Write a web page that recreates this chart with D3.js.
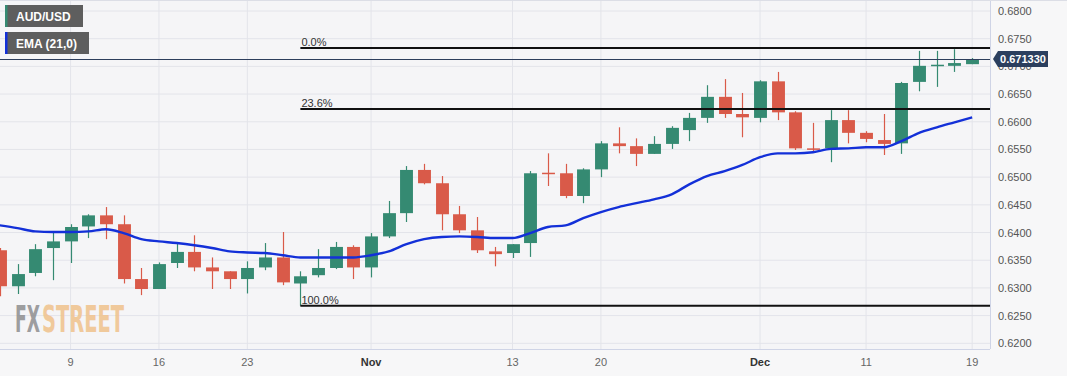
<!DOCTYPE html>
<html>
<head>
<meta charset="utf-8">
<script src="https://cdn.jsdelivr.net/npm/d3@7"></script>
<style>
  body { margin: 0; background: #f7f7f8; }
  svg { display: block; font-family: Arial, "Liberation Sans", sans-serif; }
</style>
</head>
<body>
<div id="chart"></div>
<script>
// daily AUD/USD candles, Oct 3 - Dec 19 2023
const dates = [
  "2023-10-03","2023-10-04","2023-10-05","2023-10-06","2023-10-09","2023-10-10","2023-10-11","2023-10-12","2023-10-13",
  "2023-10-16","2023-10-17","2023-10-18","2023-10-19","2023-10-20","2023-10-23","2023-10-24","2023-10-25","2023-10-26",
  "2023-10-27","2023-10-30","2023-10-31","2023-11-01","2023-11-02","2023-11-03","2023-11-06","2023-11-07","2023-11-08",
  "2023-11-09","2023-11-10","2023-11-13","2023-11-14","2023-11-15","2023-11-16","2023-11-17","2023-11-20","2023-11-21",
  "2023-11-22","2023-11-23","2023-11-24","2023-11-27","2023-11-28","2023-11-29","2023-11-30","2023-12-01","2023-12-04",
  "2023-12-05","2023-12-06","2023-12-07","2023-12-08","2023-12-11","2023-12-12","2023-12-13","2023-12-14","2023-12-15",
  "2023-12-18","2023-12-19"
];
const open = [
  0.6368,0.6303,0.6327,0.6372,0.6384,0.6411,0.6431,0.6415,0.6316,
  0.6298,0.6345,0.6365,0.6337,0.6330,0.6316,0.6337,0.6355,0.6308,
  0.6323,0.6336,0.6374,0.6337,0.6393,0.6435,0.6513,0.6489,0.6433,
  0.6404,0.6366,0.6363,0.6381,0.6508,0.6507,0.6466,0.6514,0.6561,
  0.6556,0.6542,0.6560,0.6585,0.6607,0.6645,0.6614,0.6607,0.6673,
  0.6617,0.6552,0.6552,0.6603,0.6580,0.6567,0.6561,0.6672,0.6701,
  0.6701,0.6704
];
const high = [
  0.6372,0.6343,0.6379,0.6401,0.6415,0.6433,0.6446,0.6431,0.6336,
  0.6346,0.6381,0.6395,0.6355,0.6330,0.6348,0.6381,0.6401,0.6330,
  0.6370,0.6383,0.6377,0.6399,0.6457,0.6520,0.6524,0.6502,0.6448,
  0.6428,0.6374,0.6379,0.6511,0.6543,0.6524,0.6516,0.6565,0.6590,
  0.6570,0.6574,0.6592,0.6616,0.6666,0.6677,0.6652,0.6675,0.6690,
  0.6619,0.6598,0.6621,0.6621,0.6583,0.6614,0.6672,0.6728,0.6728,
  0.6731,0.6715
];
const low = [
  0.6285,0.6289,0.6321,0.6314,0.6345,0.6390,0.6388,0.6308,0.6287,
  0.6298,0.6336,0.6330,0.6298,0.6298,0.6290,0.6332,0.6305,0.6268,
  0.6319,0.6334,0.6316,0.6319,0.6390,0.6419,0.6487,0.6404,0.6399,
  0.6363,0.6339,0.6354,0.6356,0.6484,0.6462,0.6453,0.6500,0.6543,
  0.6520,0.6542,0.6551,0.6565,0.6598,0.6607,0.6572,0.6599,0.6603,
  0.6549,0.6545,0.6527,0.6561,0.6563,0.6540,0.6542,0.6655,0.6663,
  0.6690,0.6704
];
const close = [
  0.6303,0.6325,0.6370,0.6384,0.6410,0.6431,0.6415,0.6316,0.6298,
  0.6343,0.6365,0.6337,0.6330,0.6316,0.6336,0.6355,0.6310,0.6321,
  0.6336,0.6374,0.6337,0.6393,0.6435,0.6513,0.6489,0.6433,0.6404,
  0.6368,0.6361,0.6379,0.6507,0.6506,0.6466,0.6514,0.6561,0.6556,
  0.6542,0.6560,0.6589,0.6607,0.6645,0.6614,0.6608,0.6673,0.6617,
  0.6552,0.6551,0.6603,0.6580,0.6569,0.6560,0.6670,0.6701,0.6703,
  0.6706,0.67133
];
const ema21 = [
  0.6413,0.6408,0.6402,0.6401,0.6401,0.6402,0.6406,0.6399,0.6388,
  0.6384,0.6381,0.6377,0.6372,0.6366,0.6364,0.6363,0.6359,0.6355,
  0.6355,0.6355,0.6355,0.6359,0.6366,0.6379,0.6388,0.6392,0.6393,
  0.6392,0.6390,0.6390,0.6399,0.6410,0.6413,0.6426,0.6437,0.6446,
  0.6453,0.6460,0.6469,0.6487,0.6502,0.6511,0.6522,0.6536,0.6543,
  0.6543,0.6545,0.6551,0.6552,0.6554,0.6554,0.6565,0.6580,0.6590,
  0.6599,0.6608
];
const fibLevels = [
  {label: "0.0%", value: 0.6733},
  {label: "23.6%", value: 0.6623},
  {label: "100.0%", value: 0.6268}
];
const fibStart = "2023-10-26";
const lastPrice = 0.67133;
const xTickDates = ["2023-10-09","2023-10-16","2023-10-23","2023-11-01","2023-11-13","2023-11-20","2023-12-01","2023-12-11","2023-12-19"];
const xTickLabels = ["9","16","23","Nov","13","20","Dec","11","19"];
const yTicks = [0.620,0.625,0.630,0.635,0.640,0.645,0.650,0.655,0.660,0.665,0.670,0.675,0.680];

const width = 1067, height = 376;
const plotW = 990, plotH = 349;
const green = "#358a72", red = "#d95a49";

const svg = d3.select("#chart").append("svg")
    .attr("width", width)
    .attr("height", height);

svg.append("rect").attr("width", width).attr("height", height).attr("fill", "#f7f7f8");
svg.append("rect").attr("width", plotW).attr("height", plotH).attr("fill", "#f5f5f7");

svg.append("defs").append("clipPath").attr("id", "plot-clip")
    .append("rect").attr("width", plotW).attr("height", plotH);

const x = d3.scaleBand().domain(dates).range([-9, 981]).paddingInner(0.27).paddingOuter(0.135);
const cx = d => x(d) + x.bandwidth() / 2;
const y = d3.scaleLinear().domain([0.62, 0.68]).range([343.3, 11]);

// grid
svg.append("g").selectAll("line.hgrid")
    .data(yTicks)
    .join("line")
    .attr("x1", 0).attr("x2", plotW)
    .attr("y1", d => y(d)).attr("y2", d => y(d))
    .attr("stroke", "#e3e4ea").attr("stroke-width", 1);
svg.append("g").selectAll("line.vgrid")
    .data(xTickDates)
    .join("line")
    .attr("x1", d => cx(d)).attr("x2", d => cx(d))
    .attr("y1", 0).attr("y2", plotH)
    .attr("stroke", "#e3e4ea").attr("stroke-width", 1);

// plot border
svg.append("line").attr("x1", plotW + 0.5).attr("x2", plotW + 0.5).attr("y1", 0).attr("y2", plotH)
    .attr("stroke", "#cfd4e6");
svg.append("line").attr("x1", 0).attr("x2", plotW).attr("y1", plotH + 0.5).attr("y2", plotH + 0.5)
    .attr("stroke", "#cfd4e6");
svg.append("line").attr("x1", 0).attr("x2", width).attr("y1", 0.5).attr("y2", 0.5)
    .attr("stroke", "#dcdee6");

// watermark
const wmParts = [
  {text: "FX", color: "#8e8e90", x: 15, w: 25},
  {text: "STREET", color: "#f0c28c", x: 42, w: 82}
];
svg.append("g").attr("opacity", 0.85).selectAll("text")
    .data(wmParts)
    .join("text")
    .attr("x", d => d.x).attr("y", 332)
    .attr("font-family", "'Liberation Sans Narrow', 'DejaVu Sans Condensed', Arial, sans-serif")
    .attr("font-weight", "bold")
    .attr("font-size", 37)
    .attr("textLength", d => d.w)
    .attr("lengthAdjust", "spacingAndGlyphs")
    .attr("fill", d => d.color)
    .text(d => d.text);

const plot = svg.append("g").attr("clip-path", "url(#plot-clip)");

// candles
const candles = dates.map((d, i) => ({date: d, o: open[i], h: high[i], l: low[i], c: close[i]}));
const cg = plot.append("g").selectAll("g.candle")
    .data(candles)
    .join("g")
    .attr("class", "candle");
cg.append("line")
    .attr("x1", d => Math.round(cx(d.date)) + 0.5)
    .attr("x2", d => Math.round(cx(d.date)) + 0.5)
    .attr("y1", d => y(d.h))
    .attr("y2", d => y(d.l))
    .attr("stroke", d => d.c >= d.o ? green : red)
    .attr("stroke-width", 1.2);
cg.append("rect")
    .attr("x", d => Math.round(cx(d.date)) + 0.5 - x.bandwidth() / 2)
    .attr("width", x.bandwidth())
    .attr("y", d => y(Math.max(d.o, d.c)))
    .attr("height", d => Math.max(1.5, Math.abs(y(d.o) - y(d.c))))
    .attr("fill", d => d.c >= d.o ? green : red);

// EMA
plot.append("path")
    .datum(ema21)
    .attr("fill", "none")
    .attr("stroke", "#1330d8")
    .attr("stroke-width", 2.4)
    .attr("stroke-linejoin", "round")
    .attr("d", d3.line().x((v, i) => cx(dates[i])).y(v => y(v)).curve(d3.curveMonotoneX));

// fibonacci retracement
const fib = svg.append("g").selectAll("g.fib")
    .data(fibLevels)
    .join("g");
fib.append("line")
    .attr("x1", cx(fibStart)).attr("x2", plotW)
    .attr("y1", d => y(d.value)).attr("y2", d => y(d.value))
    .attr("stroke", "#111").attr("stroke-width", 2);
fib.append("text")
    .attr("x", cx(fibStart) + 1)
    .attr("y", d => y(d.value) - 2)
    .attr("font-size", 11)
    .attr("fill", "#333")
    .text(d => d.label);

// last price line
svg.append("line")
    .attr("x1", 0).attr("x2", plotW)
    .attr("y1", Math.round(y(lastPrice)) + 0.5).attr("y2", Math.round(y(lastPrice)) + 0.5)
    .attr("stroke", "#2d3e5c").attr("stroke-width", 1);

// axes
const yAxis = svg.append("g")
    .attr("transform", `translate(${plotW},0)`)
    .call(d3.axisRight(y).tickValues(yTicks).tickSize(0).tickPadding(8).tickFormat(d3.format(".4f")));
yAxis.select(".domain").remove();
yAxis.selectAll("text").attr("font-size", 11).attr("fill", "#555").attr("font-family", "Arial, 'Liberation Sans', sans-serif");

const xAxis = svg.append("g")
    .attr("transform", `translate(0,${plotH})`)
    .call(d3.axisBottom(x).tickValues(xTickDates).tickSize(0).tickPadding(9)
        .tickFormat((d, i) => xTickLabels[i]));
xAxis.select(".domain").remove();
xAxis.selectAll("text")
    .attr("font-size", 11)
    .attr("font-family", "Arial, 'Liberation Sans', sans-serif")
    .attr("fill", (d, i) => isNaN(+xTickLabels[i]) ? "#333" : "#666")
    .attr("font-weight", (d, i) => isNaN(+xTickLabels[i]) ? "bold" : "normal");

// last price tag
const ty = y(lastPrice);
svg.append("path")
    .attr("d", `M${plotW + 3},${ty} L${plotW + 8},${ty - 8} L${plotW + 58},${ty - 8} L${plotW + 58},${ty + 8} L${plotW + 8},${ty + 8} Z`)
    .attr("fill", "#2b3f5e");
svg.append("text")
    .attr("x", plotW + 33).attr("y", ty + 4)
    .attr("text-anchor", "middle")
    .attr("font-size", 11).attr("font-weight", "bold")
    .attr("fill", "#fff")
    .text(lastPrice.toFixed(6));

// legend
const legendItems = [
  {text: "AUD/USD", color: green, w: 78},
  {text: "EMA (21,0)", color: "#1330d8", w: 84}
];
const lg = svg.append("g").selectAll("g.legend")
    .data(legendItems)
    .join("g")
    .attr("transform", (d, i) => `translate(5,${5 + i * 27})`);
lg.append("rect").attr("width", d => d.w).attr("height", 22).attr("fill", "#5e5e5e");
lg.append("rect").attr("width", 2.5).attr("height", 22).attr("fill", d => d.color);
lg.append("text")
    .attr("x", 11).attr("y", 15.5)
    .attr("font-size", 12).attr("font-weight", "bold")
    .attr("fill", "#fff")
    .text(d => d.text);
</script>
</body>
</html>
